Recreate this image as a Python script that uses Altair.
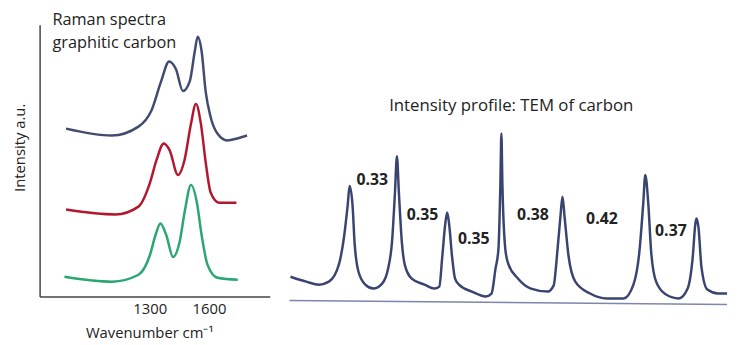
import altair as alt
import pandas as pd

# ---------------- Left panel: Raman spectra ----------------
series_names = ["top", "middle", "bottom"]
series_colors = ["#414b6e", "#b3172e", "#2aa672"]

blue_wn = [876, 1108, 1243, 1308, 1358, 1398, 1433, 1468, 1503, 1528, 1543, 1563, 1583, 1608, 1643, 1693, 1743, 1793]
blue_int = [170, 163, 172, 188, 218, 238, 230, 208, 218, 248, 263, 248, 208, 182, 165, 158, 160, 163]

red_wn = [876, 1126, 1243, 1301, 1334, 1371, 1401, 1443, 1476, 1509, 1534, 1559, 1584, 1609, 1651, 1739]
red_int = [88, 83, 91, 115, 138, 155, 148, 123, 138, 175, 195, 175, 135, 105, 95, 95]

green_wn = [868, 1109, 1243, 1301, 1329, 1354, 1384, 1418, 1451, 1479, 1509, 1539, 1563, 1593, 1643, 1746]
green_int = [20, 15, 22, 42, 62, 74, 62, 40, 55, 88, 113, 95, 62, 32, 19, 17]

x_ticks = [1300, 1600]
left_title = "Raman spectra\ngraphitic carbon"
left_title_pos = [807, 275]

# ---------------- Right panel: TEM intensity profile ----------------
prof_pos = [1, 17, 30, 40, 50, 55, 59, 61, 64, 66, 70, 77, 85, 94, 100, 104, 107, 109, 111, 114,
            117, 124, 137, 147, 152, 155, 158, 160, 162, 165, 168, 172, 185, 199, 205, 209, 212, 214,
            215, 216, 219, 222, 232, 245, 262, 268, 272, 275, 277, 279, 283, 290, 305, 322, 339, 349,
            355, 359, 361, 364, 367, 372, 382, 395, 404, 409, 412, 413, 415, 418, 424, 435, 444]
prof_int = [20, 15, 12, 15, 32, 58, 92, 112, 92, 55, 25, 12, 8, 13, 28, 55, 105, 142, 105, 55,
            32, 18, 12, 8, 10, 40, 73, 85, 73, 40, 18, 12, 5, 0, 3, 28, 48, 115,
            165, 115, 48, 33, 18, 8, 5, 11, 48, 82, 101, 82, 42, 15, 3, -2, -2, 12,
            45, 95, 123, 95, 45, 15, 2, -2, 8, 38, 75, 79, 70, 30, 7, 3, 3]

base_pos = [0, 444]
base_int = [-4, -8]

spacing_labels = ["0.33", "0.35", "0.35", "0.38", "0.42", "0.37"]
label_pos = [84, 135, 187, 247, 317, 387]
label_int = [118, 82, 58, 82, 78, 66]

right_title = "Intensity profile: TEM of carbon"
right_title_pos = [225, 193]

# ---------------- Build ----------------
left_df = pd.concat([
    pd.DataFrame({"wn": blue_wn, "I": blue_int, "s": series_names[0]}),
    pd.DataFrame({"wn": red_wn, "I": red_int, "s": series_names[1]}),
    pd.DataFrame({"wn": green_wn, "I": green_int, "s": series_names[2]}),
], ignore_index=True)

xs_left = alt.Scale(domain=[742, 1908], nice=False, zero=False)
ys_left = alt.Scale(domain=[0, 275], nice=False, zero=False)

left_lines = alt.Chart(left_df).mark_line(interpolate="monotone", strokeWidth=2.5).encode(
    x=alt.X("wn:Q", scale=xs_left,
            axis=alt.Axis(values=x_ticks, format="d", ticks=False, grid=False, labelFontSize=15,
                          labelPadding=5, labelColor="#222", title="Wavenumber cm⁻¹", titleFontSize=15,
                          titleFontWeight="normal", titleColor="#222", titlePadding=10, titleX=111,
                          domainColor="#444", domainWidth=1.5)),
    y=alt.Y("I:Q", scale=ys_left,
            axis=alt.Axis(labels=False, ticks=False, grid=False, title="Intensity a.u.",
                          titleFontSize=15, titleFontWeight="normal", titleColor="#222",
                          titlePadding=12, titleY=124, domainColor="#444", domainWidth=1.5)),
    color=alt.Color("s:N", scale=alt.Scale(domain=series_names, range=series_colors), legend=None),
)

left_text = alt.Chart(pd.DataFrame({"wn": [left_title_pos[0]], "I": [left_title_pos[1]], "t": [left_title]})).mark_text(
    align="left", baseline="alphabetic", fontSize=16.5, lineBreak="\n", lineHeight=23, color="#222"
).encode(x=alt.X("wn:Q", scale=xs_left), y=alt.Y("I:Q", scale=ys_left), text="t:N")

left = alt.layer(left_lines, left_text).properties(width=233, height=275)

xs_right = alt.Scale(domain=[0, 444], nice=False, zero=False)
ys_right = alt.Scale(domain=[0, 275], nice=False, zero=False)

prof = alt.Chart(pd.DataFrame({"pos": prof_pos, "amp": prof_int})).mark_line(
    interpolate="monotone", strokeWidth=2.5, color="#3a4470"
).encode(x=alt.X("pos:Q", scale=xs_right, axis=None), y=alt.Y("amp:Q", scale=ys_right, axis=None))

base = alt.Chart(pd.DataFrame({"pos": base_pos, "amp": base_int})).mark_line(
    strokeWidth=1.5, color="#7d86ad"
).encode(x=alt.X("pos:Q", scale=xs_right, axis=None), y=alt.Y("amp:Q", scale=ys_right, axis=None))

labels = alt.Chart(pd.DataFrame({"pos": label_pos, "amp": label_int, "t": spacing_labels})).mark_text(
    fontSize=16, fontWeight="bold", color="#222", baseline="middle", align="center"
).encode(x=alt.X("pos:Q", scale=xs_right, axis=None), y=alt.Y("amp:Q", scale=ys_right, axis=None), text="t:N")

rtitle = alt.Chart(pd.DataFrame({"pos": [right_title_pos[0]], "amp": [right_title_pos[1]], "t": [right_title]})).mark_text(
    fontSize=17, color="#222", baseline="middle", align="center"
).encode(x=alt.X("pos:Q", scale=xs_right, axis=None), y=alt.Y("amp:Q", scale=ys_right, axis=None), text="t:N")

right = alt.layer(base, prof, labels, rtitle).properties(width=443, height=275)

chart = alt.hconcat(left, right, spacing=15).properties(
    padding={"left": 5, "top": 2, "right": 0, "bottom": 0},
    background="white",
).configure(font="Open Sans").configure_view(stroke=None)

chart.save("out.html", embed_options={"renderer": "svg", "actions": False})
